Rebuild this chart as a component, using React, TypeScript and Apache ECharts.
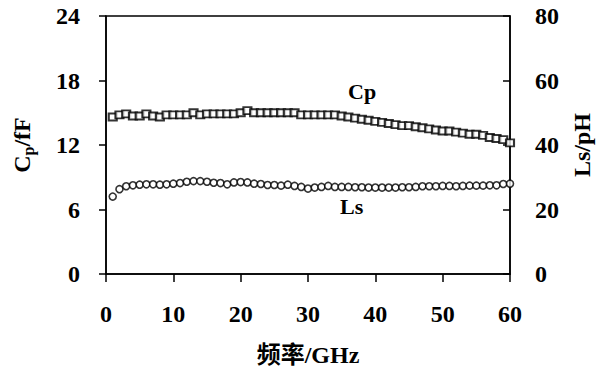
import React, { useEffect, useRef } from "react";
import * as echarts from "echarts";

const freq = [1,2,3,4,5,6,7,8,9,10,11,12,13,14,15,16,17,18,19,20,21,22,23,24,25,26,27,28,29,30,31,32,33,34,35,36,37,38,39,40,41,42,43,44,45,46,47,48,49,50,51,52,53,54,55,56,57,58,59,60];
const cp = [14.6,14.8,14.9,14.7,14.7,14.9,14.7,14.6,14.8,14.8,14.8,14.8,15.0,14.8,14.9,14.9,14.9,14.9,14.9,15.0,15.2,15.0,15.0,15.0,15.0,15.0,15.0,15.0,14.8,14.8,14.8,14.8,14.8,14.8,14.7,14.6,14.5,14.4,14.3,14.2,14.1,14.0,13.9,13.8,13.8,13.7,13.6,13.5,13.4,13.3,13.3,13.2,13.1,13.0,13.0,12.9,12.7,12.6,12.5,12.2];
const ls = [24.0,26.3,27.2,27.5,27.7,27.8,27.8,27.7,27.8,28.0,28.2,28.6,28.8,28.8,28.6,28.3,28.2,27.8,28.4,28.5,28.4,28.0,27.9,27.6,27.6,27.4,27.7,27.3,27.0,26.5,26.8,27.0,27.3,27.0,27.0,27.0,26.9,26.9,26.8,26.8,26.8,26.8,26.8,26.9,26.9,27.0,27.2,27.2,27.2,27.3,27.3,27.2,27.3,27.4,27.4,27.4,27.5,27.5,27.9,28.0];

const FONT = "'Liberation Serif', 'Times New Roman', 'Noto Sans CJK SC', serif";

export default function App() {
  const ref = useRef<HTMLDivElement>(null);
  useEffect(() => {
    if (!ref.current) return;
    const chart = echarts.init(ref.current, null, { renderer: "svg" });
    const labelStyle = { fontFamily: FONT, fontWeight: "bold" as const, fontSize: 24, color: "#000" };
    const titleStyle = { fontFamily: FONT, fontWeight: "bold" as const, fontSize: 24, color: "#000" };
    chart.setOption({
      animation: false,
      backgroundColor: "#fff",
      grid: { left: 106, right: 99, top: 16, bottom: 100, show: true, borderColor: "#000", borderWidth: 1.5, backgroundColor: "transparent" },
      xAxis: {
        type: "value", min: 0, max: 60, interval: 10,
        axisLine: { lineStyle: { color: "#000", width: 1.5 } },
        axisTick: { show: true, inside: false, length: 8, lineStyle: { color: "#000", width: 1.5 } },
        splitLine: { show: false },
        axisLabel: { ...labelStyle, margin: 28 },
        name: "频率/GHz", nameLocation: "middle", nameGap: 69,
        nameTextStyle: titleStyle,
      },
      yAxis: [
        {
          type: "value", min: 0, max: 24, interval: 6, position: "left",
          axisLine: { show: true, lineStyle: { color: "#000", width: 1.5 } },
          axisTick: { show: true, inside: false, length: 7, lineStyle: { color: "#000", width: 1.5 } },
          splitLine: { show: false },
          axisLabel: { ...labelStyle, margin: 26 },
          name: "{a|C}{b|p}{a|/fF}", nameLocation: "middle", nameGap: 70,
          nameTextStyle: {
            rich: {
              a: { ...titleStyle },
              b: { ...titleStyle, fontSize: 16, padding: [12, 0, 0, 0] },
            },
          },
        },
        {
          type: "value", min: 0, max: 80, interval: 20, position: "right",
          axisLine: { show: true, lineStyle: { color: "#000", width: 1.5 } },
          axisTick: { show: true, inside: true, length: 7, lineStyle: { color: "#000", width: 1.5 } },
          splitLine: { show: false },
          axisLabel: { ...labelStyle, margin: 25 },
          name: "Ls/pH", nameLocation: "middle", nameGap: 58,
          nameTextStyle: titleStyle,
        },
      ],
      graphic: [
        { type: "text", left: 348, top: 80, style: { text: "Cp", font: `bold 22px ${FONT}`, fill: "#000" } },
        { type: "text", left: 340, top: 195, style: { text: "Ls", font: `bold 22px ${FONT}`, fill: "#000" } },
      ],
      series: [
        {
          name: "Cp", type: "scatter", yAxisIndex: 0,
          data: freq.map((f, i) => [f, cp[i]]),
          symbol: "rect", symbolSize: [8, 7],
          itemStyle: { color: "#fff", borderColor: "#000", borderWidth: 2 },
        },
        {
          name: "Ls", type: "scatter", yAxisIndex: 1,
          data: freq.map((f, i) => [f, ls[i]]),
          symbol: "circle", symbolSize: 7,
          itemStyle: { color: "#fff", borderColor: "#000", borderWidth: 1.6 },
        },
      ],
    });
    return () => chart.dispose();
  }, []);
  return <div ref={ref} style={{ width: 609, height: 374, position: "absolute", left: 0, top: 0 }} />;
}
